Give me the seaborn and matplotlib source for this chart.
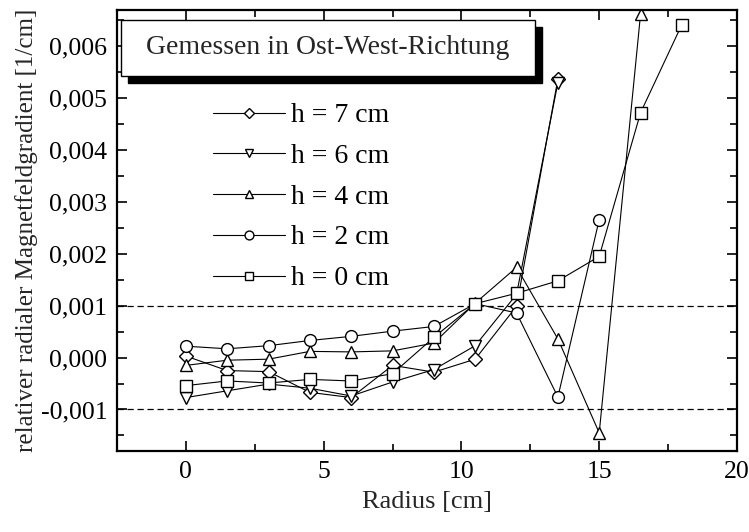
import matplotlib
matplotlib.use("Agg")
import matplotlib.pyplot as plt
from matplotlib.patches import Rectangle
from matplotlib.ticker import FuncFormatter, MultipleLocator
import numpy as np
import pandas as pd
import seaborn as sns

# ---- data ----
radius = [0, 1.5, 3, 4.5, 6, 7.5, 9, 10.5, 12, 13.5, 15, 16.5, 18]
h7 = [0.00003, -0.00025, -0.00027, -0.00067, -0.00077, -0.00015, -0.00028, -0.00003, 0.00099, 0.00537]
h6 = [-0.00077, -0.00064, -0.00051, -0.00059, -0.00074, -0.00047, -0.00023, 0.00023, 0.00122, 0.00530]
h4 = [-0.00015, -0.00005, -0.00003, 0.00012, 0.00011, 0.00013, 0.00028, 0.00105, 0.00174, 0.00036, -0.00145, 0.00662]
h2 = [0.00022, 0.00017, 0.00023, 0.00033, 0.00041, 0.00051, 0.00060, 0.00104, 0.00086, -0.00076, 0.00266]
h0 = [-0.00054, -0.00045, -0.00049, -0.00042, -0.00045, -0.00031, 0.00039, 0.00104, 0.00124, 0.00148, 0.00195, 0.00472, 0.00642]
labels = ["h = 7 cm", "h = 6 cm", "h = 4 cm", "h = 2 cm", "h = 0 cm"]
markers = ["D", "v", "^", "o", "s"]
series = [h7, h6, h4, h2, h0]
title_text = "Gemessen in Ost-West-Richtung"

sns.set_theme(style="ticks")
plt.rcParams["font.family"] = ["Liberation Serif", "DejaVu Serif"]
plt.rcParams["mathtext.fontset"] = "stix"

fig = plt.figure(figsize=(7.49, 5.32), dpi=100)
ax = fig.add_axes([117/749, 1-451/532, 620/749, 441/532])

msizes = {"D": 7, "v": 8.5, "^": 8.5, "o": 8.5, "s": 8}
for vals, lab, m in zip(series, labels, markers):
    df = pd.DataFrame({"x": radius[:len(vals)], "y": vals})
    sns.lineplot(data=df, x="x", y="y", ax=ax, color="black", linewidth=0.8,
                 marker=m, markersize=msizes[m], markerfacecolor="white",
                 markeredgecolor="black", markeredgewidth=1.0, label=lab)

for yv in (0.001, -0.001):
    ax.axhline(yv, color="black", linewidth=0.9, linestyle=(0, (5, 3)), zorder=1)

ax.set_xlim(-2.5, 20)
ax.set_ylim(-0.0018, 0.0067)
ax.xaxis.set_major_locator(MultipleLocator(5))
ax.xaxis.set_minor_locator(MultipleLocator(2.5))
ax.yaxis.set_major_locator(MultipleLocator(0.001))
ax.yaxis.set_minor_locator(MultipleLocator(0.0005))
ax.yaxis.set_major_formatter(FuncFormatter(lambda v, p: ("%.3f" % v).replace(".", ",").replace("-0,000", "0,000")))
ax.tick_params(which="both", direction="in", top=True, right=True, width=1.2, labelsize=18.5, colors="black")
ax.tick_params(which="major", length=7, pad=7)
ax.tick_params(which="minor", length=5)
for s in ax.spines.values():
    s.set_linewidth(1.6)
    s.set_color("black")

ax.set_xlabel("Radius [cm]", fontsize=19, labelpad=6)
ax.set_ylabel("relativer radialer Magnetfeldgradient [1/cm]", fontsize=18, labelpad=2)

# title box with shadow
bx0, by0 = (121-117)/620, (451-76)/441
bw, bh = (535-121)/620, (76-20)/441
ax.add_patch(Rectangle((bx0 + 7/620, by0 - 7/441), bw, bh, transform=ax.transAxes,
                       facecolor="black", edgecolor="black", zorder=5))
ax.add_patch(Rectangle((bx0, by0), bw, bh, transform=ax.transAxes,
                       facecolor="white", edgecolor="black", linewidth=1.0, zorder=6))
ax.text(bx0 + bw/2, by0 + bh/2, title_text, transform=ax.transAxes, ha="center", va="center",
        fontsize=20, zorder=7)

leg = ax.legend(loc="upper left", bbox_to_anchor=((199-117)/620, (451-89)/441), frameon=False,
                fontsize=20, handlelength=2.6, handletextpad=0.2, labelspacing=0.55,
                borderpad=0, markerscale=0.75, numpoints=1)
for t in leg.get_texts():
    t.set_color("black")

fig.savefig("out.png", dpi=100)
